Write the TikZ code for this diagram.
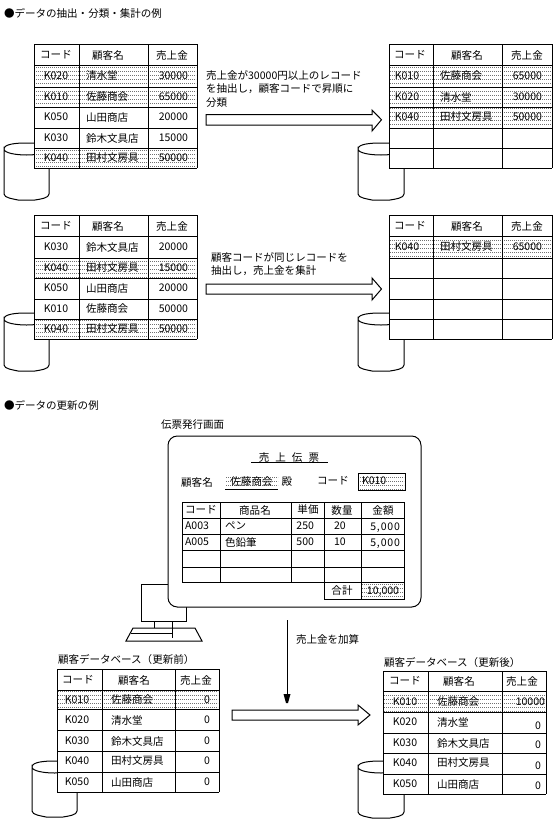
\documentclass[tikz,border=0pt]{standalone}
\usepackage{fontspec}
\setmainfont{Noto Sans CJK JP}
\usetikzlibrary{patterns}
\pgfdeclarepatternformonly{halftone}{\pgfpointorigin}{\pgfpoint{1.5pt}{2.6pt}}{\pgfpoint{1.5pt}{2.6pt}}{
  \pgfpathrectangle{\pgfpointorigin}{\pgfpoint{.75pt}{.75pt}}\pgfusepath{fill}}
\tikzset{
  ln/.style={draw=black,line width=.75pt},
  txt/.style={inner sep=0pt,outer sep=0pt,font=\fontsize{7.9}{9}\selectfont,text=black},
  shade row/.style={pattern=halftone,pattern color=black!85},
  hollow/.style={ln,fill=white,line join=miter}
}
\newcounter{nn}
\newcommand\lbl[3][]{\stepcounter{nn}\node[txt,#1] (t\thenn) at (#2) {#3};}
\newcommand\setcols[9]{\def\cA{#1}\def\cB{#2}\def\cC{#3}\def\cD{#4}\def\tc{#5}\def\hc{#5}\def\tn{#6}\def\tv{#7}\def\hn{#8}\def\hv{#9}}
\newcommand\gridof[1]{%
  \foreach \y [count=\i] in {#1}{
    \ifnum\i=1 \xdef\yfirst{\y}\fi \xdef\ylast{\y}
    \draw[ln] (\cA,\y) -- (\cD,\y);}
  \draw[ln] (\cA,\yfirst) -- (\cA,\ylast) (\cB,\yfirst) -- (\cB,\ylast) (\cC,\yfirst) -- (\cC,\ylast) (\cD,\yfirst) -- (\cD,\ylast);}
\newcommand\whitebg[2]{\fill[white] (\cA,#1) rectangle (\cD,#2);}
\newcommand\shaderow[2]{\path[shade row] (\cA+1,#1+1) rectangle (\cD-1,#2-1);}
\newcommand\headrow[1]{\lbl{\hc,#1}{コード}\lbl{\hn,#1}{顧客名}\lbl{\hv,#1}{売上金}}
\newcommand\datarow[4]{\lbl{\tc,#1}{#2}\lbl[anchor=west]{\tn,#1}{#3}\lbl[anchor=east]{\tv,#1}{#4}}
\newcommand\cyl[4]{%
  \draw[ln] (#1,#3+6) .. controls (#1,#3+1) and (#1+12,#3) .. ({(#1+#2)/2},#3)
     .. controls (#2-12,#3) and (#2,#3+1) .. (#2,#3+6)
     .. controls (#2,#3+10) and (#2-12,#3+12) .. ({(#1+#2)/2},#3+12)
     .. controls (#1+12,#3+12) and (#1,#3+10) .. (#1,#3+6)
     -- (#1,#4-6) .. controls (#1,#4-2) and (#1+10,#4-1) .. (#1+14,#4)
     -- (#2-14,#4) .. controls (#2-8,#4-1) and (#2,#4-2) .. (#2,#4-6) -- (#2,#3+6);}
\newcommand\hollowarrow[7]{% x0,xbase,tip,ybodytop,ybodybot,yheadtop,yheadbot
  \draw[hollow] (#1,#4) -- (#2,#4) -- (#2,#6) -- (#3,{(#4+#5)/2}) -- (#2,#7) -- (#2,#5) -- (#1,#5) -- cycle;}
\begin{document}
\begin{tikzpicture}[x=.75pt,y=-.75pt]
\useasboundingbox (0,0) rectangle (555,822);
\fill[white] (0,0) rectangle (555,822);

% titles
\lbl[anchor=west]{4,13}{●データの抽出・分類・集計の例}
\lbl[anchor=west]{4,405}{●データの更新の例}

% table 1
\cyl{4}{49}{143}{200}
\setcols{34}{79}{148}{197}{56}{86}{188}{108}{172}
\whitebg{44}{168}
\shaderow{65}{87}\shaderow{87}{107}\shaderow{148}{168}
\gridof{44,65,87,107,128,148,168}
\headrow{55}
\datarow{75.5}{K020}{清水堂}{30000}
\datarow{97}{K010}{佐藤商会}{65000}
\datarow{117}{K050}{山田商店}{20000}
\datarow{138}{K030}{鈴木文具店}{15000}
\datarow{158}{K040}{田村文房具}{50000}

% table 2
\cyl{358}{404}{143}{200}
\setcols{389}{433}{502}{552}{407}{440}{542}{467}{527}
\def\hc{410}
\whitebg{44}{168}
\shaderow{65}{87}\shaderow{87}{107}\shaderow{107}{128}
\gridof{44,65,87,107,128,148,168}
\headrow{55}
\datarow{75.5}{K010}{佐藤商会}{65000}
\datarow{97}{K020}{清水堂}{30000}
\datarow{117}{K040}{田村文房具}{50000}

% arrow 1
\hollowarrow{206}{372}{381.5}{114.5}{125}{110}{131}
\lbl[anchor=west]{206,75}{売上金が30000円以上のレコード}
\lbl[anchor=west]{206,89}{を抽出し，顧客コードで昇順に}
\lbl[anchor=west]{206,103}{分類}

% table 3
\cyl{4}{49}{313}{371}
\setcols{34}{79}{148}{197}{56}{86}{188}{108}{172}
\whitebg{215}{339}
\shaderow{258}{278}\shaderow{319}{339}
\gridof{215,236,258,278,299,319,339}
\headrow{226}
\datarow{247}{K030}{鈴木文具店}{20000}
\datarow{268}{K040}{田村文房具}{15000}
\datarow{288}{K050}{山田商店}{20000}
\datarow{309}{K010}{佐藤商会}{50000}
\datarow{329}{K040}{田村文房具}{50000}

% table 4
\cyl{358}{404}{313}{371}
\setcols{389}{433}{502}{552}{407}{440}{542}{467}{527}
\def\hc{410}
\whitebg{215}{339}
\shaderow{236}{258}
\gridof{215,236,258,278,299,319,339}
\headrow{226}
\datarow{247}{K040}{田村文房具}{65000}

% arrow 2
\hollowarrow{206}{372}{381.5}{284}{294}{278}{300}
\lbl[anchor=west]{211,257}{顧客コードが同じレコードを}
\lbl[anchor=west]{211,271}{抽出し，売上金を集計}

% computer
\draw[ln] (141,584) rectangle (186,621);
\draw[ln] (154,621) -- (154,628);
\draw[ln] (172,621) -- (172,638);
\draw[ln] (126,641) -- (133,628) -- (195,628) -- (202,641) -- cycle;
\draw[ln] (131,633) -- (172,633);
\lbl[anchor=west]{161,425}{伝票発行画面}

% screen
\draw[ln,fill=white,rounded corners=7pt] (168,436) rectangle (421,607);
\lbl{289,457}{売\hspace{4.5pt}上\hspace{4.5pt}伝\hspace{4.5pt}票}
\draw[ln] (251,462) -- (328,462);
\lbl{197,482}{顧客名}
\path[shade row] (225,476) rectangle (278,488);
\draw[ln] (225,489) -- (278,489);
\lbl{251.5,482}{佐藤商会}
\lbl{287,482}{殿}
\lbl{333,481}{コード}
\draw[ln] (358,473) rectangle (405,490);
\path[shade row] (359,474) rectangle (404,489);
\lbl[anchor=west]{362,481}{K010}

% slip table
\draw[ln] (182,502) rectangle (404,582);
\foreach \y in {518,534,550,567}{\draw[ln] (182,\y) -- (404,\y);}
\foreach \x in {220,291,324,361}{\draw[ln] (\x,502) -- (\x,582);}
\draw[ln] (324,582) -- (324,599) -- (404,599) -- (404,582);
\path[shade row] (362,583) rectangle (403,598);
\draw[ln] (361,582) -- (361,599);
\lbl{201,510}{コード}
\lbl{255,510}{商品名}
\lbl{308,509.5}{単価}
\lbl{342,510}{数量}
\lbl{383,510}{金額}
\lbl[anchor=west]{185,526}{A003}
\lbl[anchor=west]{225,526}{ペン}
\lbl[anchor=east]{314,526}{250}
\lbl[anchor=west]{334,526}{20}
\lbl[anchor=east]{400,528}{\addfontfeature{LetterSpace=8}5,000}
\lbl[anchor=west]{185,542}{A005}
\lbl[anchor=west]{225,542}{色鉛筆}
\lbl[anchor=east]{314,542}{500}
\lbl[anchor=west]{334,542}{10}
\lbl[anchor=east]{400,544}{\addfontfeature{LetterSpace=8}5,000}
\lbl{342,591}{合計}
\lbl{383,592}{10,000}

% vertical arrow
\coordinate (va) at (287,620);
\coordinate (vb) at (287,695);
\draw[ln] (va) -- (vb);
\fill[black] (283.5,694) -- (290.5,694) -- (288,703) -- (286,703) -- cycle;
\lbl[anchor=west]{296,639}{売上金を加算}

% table 5
\cyl{32}{77}{761}{817}
\setcols{57}{102}{175}{219}{77}{111}{210}{134}{196}
\def\hc{78}
\lbl[anchor=west]{58,659}{顧客データベース（更新前）}
\whitebg{669}{792}
\shaderow{690}{709}
\gridof{669,690,709,730,751,772,792}
\headrow{680}
\datarow{700}{K010}{佐藤商会}{0}
\datarow{720}{K020}{清水堂}{0}
\datarow{741}{K030}{鈴木文具店}{0}
\datarow{761}{K040}{田村文房具}{0}
\datarow{782}{K050}{山田商店}{0}

% arrow 3
\hollowarrow{232}{358}{370}{710}{720}{705}{725}

% table 6
\cyl{358}{404}{761}{818}
\setcols{383}{428}{502}{546}{405}{437}{541}{459}{522}
\lbl[anchor=west]{384,662}{顧客データベース（更新後）}
\whitebg{671}{794}
\shaderow{691}{712}
\gridof{671,691,712,733,753,774,794}
\headrow{681}
\datarow{702}{K010}{佐藤商会}{}
\datarow{722}{K020}{清水堂}{}
\datarow{743}{K030}{鈴木文具店}{}
\datarow{763}{K040}{田村文房具}{}
\datarow{784}{K050}{山田商店}{}
\lbl[anchor=east]{545,702}{10000}
\lbl[anchor=east]{541,726}{0}
\lbl[anchor=east]{541,745}{0}
\lbl[anchor=east]{541,766}{0}
\lbl[anchor=east]{541,786}{0}
\end{tikzpicture}
\end{document}
